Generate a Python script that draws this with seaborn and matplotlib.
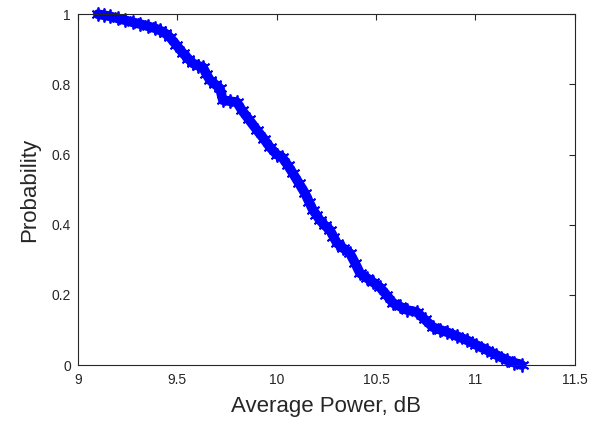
import matplotlib
matplotlib.use("Agg")
import matplotlib.pyplot as plt
import seaborn as sns
import pandas as pd

avg_power_db = [9.10, 9.13, 9.161, 9.20, 9.236, 9.275, 9.312, 9.35, 9.387, 9.412, 9.44, 9.463,
                9.495, 9.528, 9.555, 9.578, 9.605, 9.629, 9.645, 9.664, 9.69, 9.714, 9.729,
                9.765, 9.800, 9.825, 9.86, 9.900, 9.935, 9.966, 10.000, 10.026, 10.055, 10.081,
                10.110, 10.142, 10.162, 10.182, 10.200, 10.217, 10.242, 10.268, 10.285, 10.303,
                10.335, 10.368, 10.395, 10.419, 10.454, 10.485, 10.519, 10.552, 10.585, 10.62,
                10.655, 10.705, 10.745, 10.786, 10.82, 10.856, 10.905, 10.957, 11.005, 11.057,
                11.105, 11.158, 11.195, 11.233]
probability = [1.000, 0.997, 0.994, 0.988, 0.983, 0.977, 0.972, 0.966, 0.960, 0.954, 0.945, 0.934,
               0.912, 0.889, 0.873, 0.860, 0.853, 0.849, 0.830, 0.812, 0.800, 0.789, 0.755,
               0.752, 0.749, 0.726, 0.700, 0.670, 0.645, 0.621, 0.600, 0.593, 0.570, 0.547,
               0.520, 0.490, 0.466, 0.442, 0.428, 0.413, 0.398, 0.385, 0.366, 0.348,
               0.333, 0.319, 0.290, 0.262, 0.248, 0.236, 0.222, 0.200, 0.177, 0.167,
               0.157, 0.151, 0.130, 0.108, 0.101, 0.094, 0.083, 0.071, 0.057, 0.043,
               0.029, 0.014, 0.007, 0.000]

df = pd.DataFrame({"x": avg_power_db, "y": probability})

sns.set_style("white")
plt.rcParams["font.family"] = ["Liberation Sans", "DejaVu Sans"]

fig = plt.figure(figsize=(6, 4.3), dpi=100)
ax = fig.add_axes([0.13, 0.151, 0.828, 0.816])

sns.lineplot(data=df, x="x", y="y", ax=ax, color="#0000FF", linewidth=7,
             marker=(6, 2, 0), markersize=10, markeredgewidth=1.3,
             markeredgecolor="#0000FF", sort=False, clip_on=False)

ax.set_xlim(9, 11.5)
ax.set_ylim(0, 1)
ax.set_xticks([9, 9.5, 10, 10.5, 11, 11.5])
ax.set_xticklabels(["9", "9.5", "10", "10.5", "11", "11.5"])
ax.set_yticks([0, 0.2, 0.4, 0.6, 0.8, 1])
ax.set_yticklabels(["0", "0.2", "0.4", "0.6", "0.8", "1"])
ax.tick_params(direction="in", top=True, right=True, length=4, width=0.8,
               labelsize=10, colors="#262626")
ax.tick_params(axis="y", pad=5)
ax.tick_params(axis="x", pad=6)
for s in ax.spines.values():
    s.set_color("#262626")
    s.set_linewidth(0.8)
ax.set_xlabel("Average Power, dB", fontsize=16, color="#262626", labelpad=6)
ax.set_ylabel("Probability", fontsize=16, color="#262626", labelpad=8)

fig.savefig("out.png", dpi=100)
